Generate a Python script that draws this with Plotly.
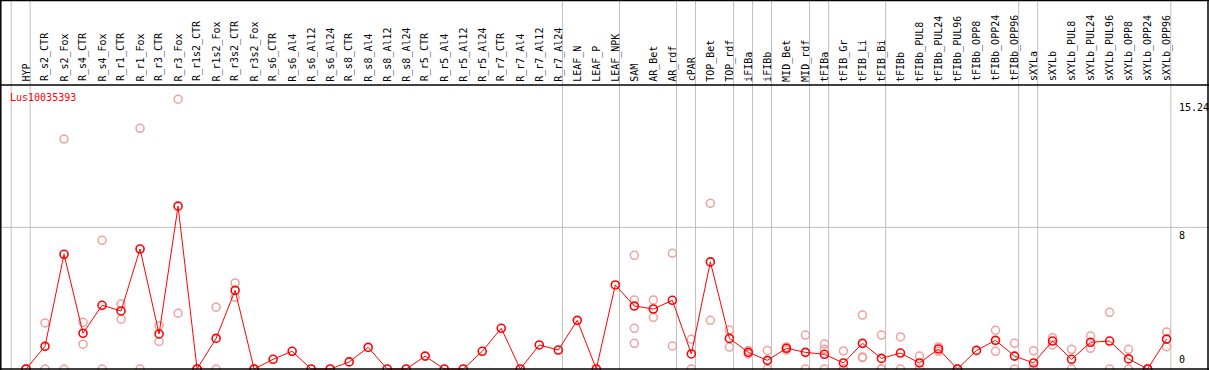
import plotly.graph_objects as go

categories = ["HYP", "R_s2_CTR", "R_s2_Fox", "R_s4_CTR", "R_s4_Fox", "R_r1_CTR", "R_r1_Fox",
              "R_r3_CTR", "R_r3_Fox", "R_r1s2_CTR", "R_r1s2_Fox", "R_r3s2_CTR", "R_r3s2_Fox",
              "R_s6_CTR", "R_s6_Al4", "R_s6_Al12", "R_s6_Al24", "R_s8_CTR", "R_s8_Al4",
              "R_s8_Al12", "R_s8_Al24", "R_r5_CTR", "R_r5_Al4", "R_r5_Al12", "R_r5_Al24",
              "R_r7_CTR", "R_r7_Al4", "R_r7_Al12", "R_r7_Al24", "LEAF_N", "LEAF_P", "LEAF_NPK",
              "SAM", "AR_Bet", "AR_rdf", "cPAR", "TOP_Bet", "TOP_rdf", "iFIBa", "iFIBb",
              "MID_Bet", "MID_rdf", "tFIBa", "tFIB_Gr", "tFIB_Li", "tFIB_Bi", "tFIBb",
              "tFIBb_PUL8", "tFIBb_PUL24", "tFIBb_PUL96", "tFIBb_OPP8", "tFIBb_OPP24",
              "tFIBb_OPP96", "sXYLa", "sXYLb", "sXYLb_PUL8", "sXYLb_PUL24", "sXYLb_PUL96",
              "sXYLb_OPP8", "sXYLb_OPP24", "sXYLb_OPP96"]

mean_values = [0, 1.28, 6.48, 2.02, 3.60, 3.28, 6.78, 1.98, 9.2, 0, 1.73, 4.44, 0,
               0.55, 1.0, 0, 0, 0.40, 1.22, 0, 0, 0.73, 0, 0, 1.0, 2.30, 0, 1.36, 1.07,
               2.75, 0, 4.75, 3.56, 3.39, 3.88, 0.85, 6.05, 1.73, 0.94, 0.49, 1.17, 0.94,
               0.83, 0.34, 1.45, 0.60, 0.90, 0.34, 1.13, 0, 1.05, 1.62, 0.73, 0.34, 1.58,
               0.55, 1.51, 1.58, 0.57, 0, 1.69]

rep1 = [0, 2.60, 12.99, 2.64, 7.27, 3.67, 13.6, 2.45, 15.24, 0, 3.49, 4.86, 0,
        None, None, None, None, None, None, None, None, None, None, None, None, None, None,
        None, None, None, None, None, 6.42, 3.90, 6.54, 1.68, 9.36, 2.20, 1.05, 1.05, 1.25,
        1.92, 1.41, 1.02, 3.05, 1.92, 1.81, 0.73, 1.25, 0, None, 2.19, 1.45, 1.03, 1.77,
        1.11, 1.86, 3.20, 1.11, 0, 2.09]
rep2 = [0, 0, 0, 1.40, 0, 2.81, 0, 1.56, 3.15, 0, 0, 4.05, 0,
        None, None, None, None, None, None, None, None, None, None, None, None, None, None,
        None, None, None, None, None, 3.90, 2.92, 1.30, 0, 2.75, 1.24, 0.85, 0, 1.07,
        0, 1.11, 0, 0.64, 0, 0, 0, 1.0, 0, None, 1.0, 0, 0, 1.36,
        0, 1.17, 0, 0, 0, 1.26]
rep3 = [None] * 32 + [2.30, None, None, None, None, None, None, None, None, None,
                      0, 0, 0.68, 0] + [None] * 7 + [0] + [None] * 7
rep4 = [None] * 32 + [1.45] + [None] * 28

y_ticks = [0, 8, 15.24]
y_tick_labels = ["0", "8", "15.24"]
group_ends = [-1, 0, 28, 31, 34, 35, 37, 38, 39, 41, 42, 45, 52, 53, 60]
gene = "Lus10035393"

W, H = 1209, 370
FONT = "DejaVu Sans Mono"
x_idx = list(range(len(categories)))

# pixel mapping: category i at 26 + 19.01*i ; value v at 369 - 17.7*v
x0_px, dx_px = 26.0, 19.01
x_min = -x0_px / dx_px
x_max = x_min + W / dx_px
ppu = 17.7
y_max = 369 / ppu
y_min = y_max - H / ppu

def py(px):
    return 1 - px / H

def pxx(px):
    return px / W

fig = go.Figure()

faint_color = "#f0a0a0"
for rep in (rep1, rep2, rep3, rep4):
    fig.add_trace(go.Scatter(
        x=x_idx, y=rep, mode="markers",
        marker=dict(symbol="circle-open", size=8, color=faint_color, line=dict(width=1.5, color=faint_color)),
        showlegend=False, hoverinfo="skip"))

fig.add_trace(go.Scatter(
    x=x_idx, y=mean_values, mode="lines+markers",
    line=dict(color="#ff0000", width=1),
    marker=dict(symbol="circle-open", size=8, color="#ff0000", line=dict(width=1.6, color="#ff0000")),
    showlegend=False))

shapes = []
for g in group_ends:
    shapes.append(dict(type="line", xref="x", yref="paper", x0=g + 0.22, x1=g + 0.22,
                       y0=0, y1=1, line=dict(color="#c0c0c0", width=1), layer="below"))
shapes.append(dict(type="line", xref="paper", yref="y", x0=0, x1=1, y0=8, y1=8,
                   line=dict(color="#c0c0c0", width=1), layer="below"))
blk = dict(color="#000000", width=1.5)
shapes.append(dict(type="line", xref="paper", yref="paper", x0=0, x1=1, y0=py(0.5), y1=py(0.5), line=blk))
shapes.append(dict(type="line", xref="paper", yref="paper", x0=0, x1=1, y0=py(85), y1=py(85), line=blk))
shapes.append(dict(type="line", xref="paper", yref="paper", x0=0, x1=1, y0=py(369), y1=py(369), line=blk))
shapes.append(dict(type="line", xref="paper", yref="paper", x0=pxx(0.8), x1=pxx(0.8), y0=0, y1=1, line=blk))
shapes.append(dict(type="line", xref="paper", yref="paper", x0=pxx(1208), x1=pxx(1208), y0=0, y1=1, line=blk))

annotations = []
for i, c in enumerate(categories):
    annotations.append(dict(x=i, y=py(83.5), xref="x", yref="paper", text=c, textangle=-90,
                            showarrow=False, xanchor="center", yanchor="bottom",
                            font=dict(family=FONT, size=10, color="#000000")))
for v, t in zip(y_ticks, y_tick_labels):
    if v == 0:
        annotations.append(dict(x=pxx(1177), y=v, xref="paper", yref="y", text=t, showarrow=False,
                                xanchor="left", yanchor="bottom", yshift=2,
                                font=dict(family=FONT, size=10, color="#000000")))
    else:
        annotations.append(dict(x=pxx(1177), y=v, xref="paper", yref="y", text=t, showarrow=False,
                                xanchor="left", yanchor="top", yshift=-1,
                                font=dict(family=FONT, size=10, color="#000000")))
annotations.append(dict(x=pxx(8), y=py(97.5), xref="paper", yref="paper", text=gene, showarrow=False,
                        xanchor="left", yanchor="middle",
                        font=dict(family=FONT, size=10, color="#ff0000")))

fig.update_layout(
    width=W, height=H, margin=dict(l=0, r=0, t=0, b=0, pad=0),
    paper_bgcolor="white", plot_bgcolor="white",
    xaxis=dict(range=[x_min, x_max], visible=False, fixedrange=True),
    yaxis=dict(range=[y_min, y_max], visible=False, fixedrange=True),
    shapes=shapes, annotations=annotations, showlegend=False,
)

fig.write_html("out.html", config={"displayModeBar": False},
               post_script="document.body.style.margin='0';document.body.style.overflow='hidden';")
